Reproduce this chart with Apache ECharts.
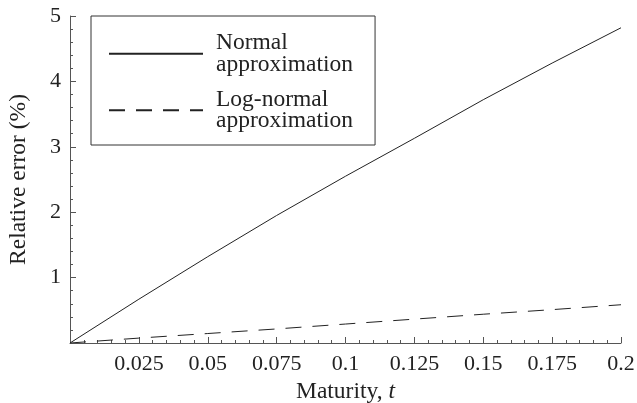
<!DOCTYPE html>
<html>
<head>
<meta charset="utf-8">
<script src="https://cdn.jsdelivr.net/npm/echarts@6/dist/echarts.min.js"></script>
<style>
  html, body { margin: 0; padding: 0; background: #fff; }
  #main { width: 637px; height: 403px; }
</style>
</head>
<body>
<div id="main"></div>
<script>
  // maturity t
  var maturity = [0, 0.025, 0.05, 0.075, 0.1, 0.125, 0.15, 0.175, 0.2];
  // relative error (%)
  var normalApprox = [0, 0.67, 1.32, 1.95, 2.55, 3.13, 3.72, 4.28, 4.82];
  var logNormalApprox = [0, 0.075, 0.145, 0.215, 0.29, 0.365, 0.44, 0.51, 0.585];

  var serif = 'Liberation Serif';
  var ink = '#222';

  function pairs(xs, ys) {
    var res = [];
    for (var i = 0; i < xs.length; i++) {
      res.push([xs[i], ys[i]]);
    }
    return res;
  }

  var myChart = echarts.init(document.getElementById('main'));
  var option = {
    animation: false,
    textStyle: { fontFamily: serif },
    grid: { left: 70, right: 16, top: 16, bottom: 60, outerBoundsMode: 'none' },
    legend: {
      orient: 'vertical',
      left: 91,
      top: 16,
      padding: [15, 22, 12, 17],
      itemGap: 11,
      itemWidth: 94,
      itemHeight: 10,
      borderColor: '#333',
      borderWidth: 1,
      itemStyle: { opacity: 0 },
      data: ['Normal\napproximation', 'Log-normal\napproximation'],
      textStyle: {
        fontFamily: serif,
        fontSize: 23.5,
        lineHeight: 21.5,
        color: ink,
        padding: [0, 0, 0, 8]
      }
    },
    xAxis: {
      type: 'value',
      min: 0,
      max: 0.2,
      interval: 0.025,
      name: '{a|Maturity, }{b|t}',
      nameLocation: 'middle',
      nameGap: 29,
      nameTextStyle: {
        rich: {
          a: { fontFamily: serif, fontSize: 23.5, color: ink },
          b: { fontFamily: serif, fontSize: 23.5, color: ink, fontStyle: 'italic' }
        }
      },
      splitLine: { show: false },
      axisLine: { lineStyle: { color: '#555', width: 1 } },
      axisTick: { inside: true, length: 6, lineStyle: { color: '#555' } },
      minorTick: { show: true, splitNumber: 5, length: 3, lineStyle: { color: '#555' } },
      axisLabel: {
        fontFamily: serif,
        fontSize: 22,
        color: ink,
        margin: 10,
        formatter: function (v) { return v === 0 ? '' : String(+v.toFixed(3)); }
      }
    },
    yAxis: {
      type: 'value',
      min: 0,
      max: 5,
      interval: 1,
      name: 'Relative error (%)',
      nameLocation: 'middle',
      nameRotate: 90,
      nameGap: 39,
      nameTextStyle: { fontFamily: serif, fontSize: 23.5, color: ink },
      splitLine: { show: false },
      axisLine: { show: true, lineStyle: { color: '#555', width: 1 } },
      axisTick: { show: true, inside: true, length: 6, lineStyle: { color: '#555' } },
      minorTick: { show: true, splitNumber: 5, length: 3, lineStyle: { color: '#555' } },
      axisLabel: {
        fontFamily: serif,
        fontSize: 22,
        color: ink,
        margin: 9,
        formatter: function (v) { return v === 0 ? '' : String(v); }
      }
    },
    series: [
      {
        name: 'Normal\napproximation',
        type: 'line',
        symbol: 'none',
        color: ink,
        lineStyle: { color: ink, width: 1 },
        data: pairs(maturity, normalApprox)
      },
      {
        name: 'Log-normal\napproximation',
        type: 'line',
        symbol: 'none',
        color: ink,
        lineStyle: { color: ink, width: 1, type: [16, 11] },
        data: pairs(maturity, logNormalApprox)
      }
    ]
  };
  myChart.setOption(option);
</script>
</body>
</html>
